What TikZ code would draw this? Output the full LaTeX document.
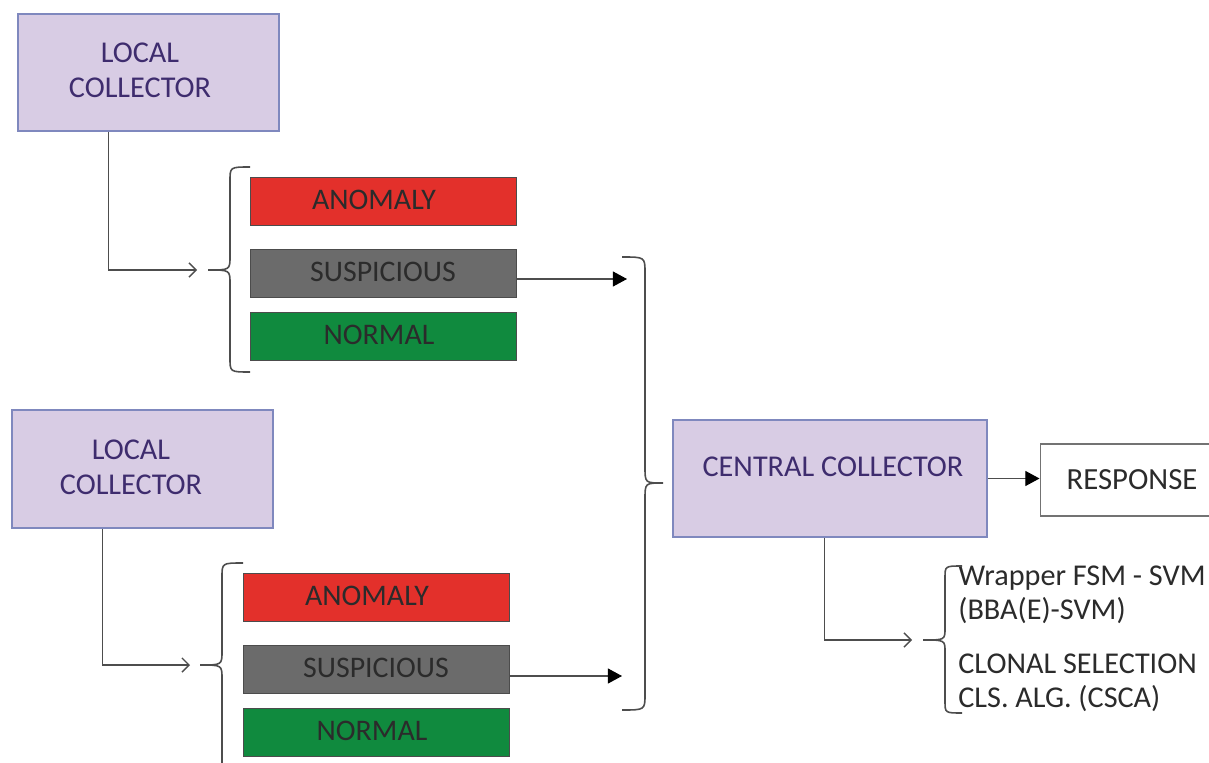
\documentclass[tikz,border=0pt]{standalone}
\usepackage{fontspec}
\setmainfont{Carlito}
\usetikzlibrary{arrows.meta,calc}
\definecolor{lavender}{HTML}{D8CCE4}
\definecolor{lavborder}{HTML}{7F88BE}
\definecolor{plum}{HTML}{3E2C6E}
\definecolor{anored}{HTML}{E3302B}
\definecolor{susgray}{HTML}{6B6B6B}
\definecolor{normgreen}{HTML}{108A3E}
\definecolor{ink}{HTML}{2B2B2B}
\definecolor{wire}{HTML}{4D4D4D}

\begin{document}
\begin{tikzpicture}[x=0.02cm,y=-0.02cm,
  collector/.style={draw=lavborder, line width=1.6pt, fill=lavender, inner sep=0pt},
  ctext/.style={text=plum, font=\fontsize{17.2}{20}\selectfont, align=center, inner sep=0pt},
  status/.style={draw=black!70, line width=0.5pt, minimum width=5.32cm, minimum height=0.96cm,
                 inner sep=0pt, text=ink, font=\fontsize{17}{20}\selectfont},
  algtext/.style={anchor=west, align=left, inner sep=0pt, text=ink,
                  font=\fontsize{17.2}{19.3}\selectfont},
  conn/.style={draw=wire, line width=0.6pt},
  openarr/.style={conn, line width=0.8pt, -{Straight Barb[length=4pt,width=8pt]}},
  fillarr/.style={conn, -{Triangle[length=8pt,width=8.5pt,color=black,fill=black]}},
  brace/.style={draw=wire, line width=0.9pt},
]
\useasboundingbox (0,0) rectangle (1209,763);

% local collectors
\node[collector, minimum width=5.22cm, minimum height=2.34cm,
      label={[ctext, xshift=-0.17cm, yshift=0.05cm]center:LOCAL\\COLLECTOR}] (lc1) at (148.5,72.5) {};
\node[collector, minimum width=5.22cm, minimum height=2.36cm,
      label={[ctext, xshift=-0.23cm, yshift=0.04cm]center:LOCAL\\COLLECTOR}] (lc2) at (142.5,469) {};

% classification bars, upper group
\node[status, fill=anored]    (a1) at (383,201) {\hspace*{-0.36cm}\raisebox{1.5pt}{ANOMALY}};
\node[status, fill=susgray]   (s1) at (383,273) {\raisebox{1.5pt}{SUSPICIOUS}};
\node[status, fill=normgreen] (n1) at (383,336) {\hspace*{-0.16cm}\raisebox{1.5pt}{NORMAL}};

% classification bars, lower group
\node[status, fill=anored]    (a2) at (376,597) {\hspace*{-0.36cm}\raisebox{1.5pt}{ANOMALY}};
\node[status, fill=susgray]   (s2) at (376,669) {\raisebox{1.5pt}{SUSPICIOUS}};
\node[status, fill=normgreen] (n2) at (376,732) {\hspace*{-0.16cm}\raisebox{1.5pt}{NORMAL}};

% central collector and response
\node[collector, minimum width=6.28cm, minimum height=2.34cm,
      label={[ctext, xshift=0.06cm, yshift=0.23cm]center:CENTRAL COLLECTOR}] (cc) at (830,478.5) {};
\node[draw=black!55, line width=0.6pt, fill=white, minimum width=3.8cm, minimum height=1.44cm,
      inner sep=0pt, text=ink, font=\fontsize{17.5}{20}\selectfont] (resp) at (1135,480) {\hspace*{-0.12cm}RESPONSE};

% detection methods
\node[algtext] (m1) at (958,595) {Wrapper FSM - SVM\\(BBA(E)-SVM)};
\node[algtext] (m2) at (958,682.5) {CLONAL SELECTION\\CLS. ALG. (CSCA)};

% braces
\draw[brace] (250,167) .. controls (230,167) .. (230,181) -- (230,256)
  .. controls (230,270) .. (208,270) .. controls (230,270) .. (230,284)
  -- (230,358) .. controls (230,372) .. (250,372);
\draw[brace] (243,563) .. controls (222,563) .. (222,577) -- (222,651)
  .. controls (222,665) .. (200,665) .. controls (222,665) .. (222,679)
  -- (222,800);
\draw[brace] (622,257) .. controls (645,257) .. (645,273) -- (645,467)
  .. controls (645,483) .. (663,483) .. controls (645,483) .. (645,499)
  -- (645,694) .. controls (645,710) .. (622,710);
\draw[brace] (962,566) .. controls (945,566) .. (945,578) -- (945,628)
  .. controls (945,640) .. (923,640) .. controls (945,640) .. (945,652)
  -- (945,701) .. controls (945,713) .. (962,713);

% connector end points in front of the braces
\coordinate (in1) at (197,270);
\coordinate (in2) at (190,665);
\coordinate (out1) at (627,279);
\coordinate (out2) at (622,676);
\coordinate (in3) at (912,640);

% connectors
\draw[openarr] ($(lc1.south west)+(92,0)$) |- (in1);
\draw[openarr] ($(lc2.south west)+(92,0)$) |- (in2);
\draw[fillarr] (s1.east |- out1) -- (out1);
\draw[fillarr] (s2.east |- out2) -- (out2);
\draw[fillarr] (cc.east) -- (cc.east -| resp.west);
\draw[openarr] ($(cc.south west)+(153,0)$) |- (in3);
\end{tikzpicture}
\end{document}
